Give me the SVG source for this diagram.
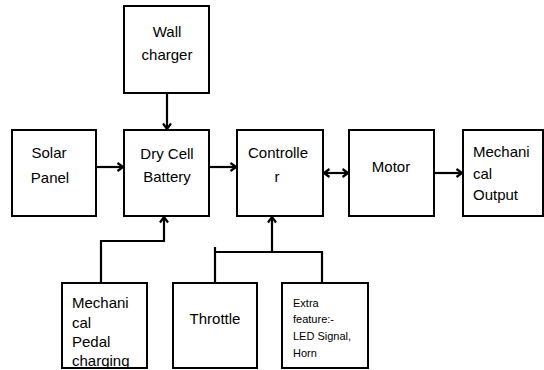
<svg xmlns="http://www.w3.org/2000/svg" width="544" height="370" viewBox="0 0 544 370">
<defs>
<style>
.box{fill:#fff;stroke:#000;stroke-width:2}
.t{font-family:"Liberation Sans",Arial,sans-serif;font-size:15px;fill:#000}
.c{text-anchor:middle}
.s{font-size:11px}
.ln{fill:none;stroke:#000;stroke-width:2.2}
</style>
<marker id="ah" viewBox="0 0 10 10" refX="9" refY="5" markerWidth="10" markerHeight="10" markerUnits="userSpaceOnUse" orient="auto-start-reverse">
<path d="M3.5,1 L9,5 L3.5,9" fill="none" stroke="#000" stroke-width="2.2"/>
</marker>
<clipPath id="pc"><rect x="62" y="283" width="85" height="84"/></clipPath>
</defs>
<rect width="544" height="370" fill="#fff"/>
<g id="connectors">
<path class="ln" d="M167,93 V129" marker-end="url(#ah)"/>
<path class="ln" d="M96,167 H123" marker-end="url(#ah)"/>
<path class="ln" d="M209,167 H236" marker-end="url(#ah)"/>
<path class="ln" d="M324,173 H348" marker-start="url(#ah)" marker-end="url(#ah)"/>
<path class="ln" d="M434,173 H462" marker-end="url(#ah)"/>
<path class="ln" d="M101,283 V241 H164 V217" marker-end="url(#ah)"/>
<path class="ln" d="M215,283 V247"/>
<path class="ln" d="M322,283 V252 H215"/>
<path class="ln" d="M272,252 V217" marker-end="url(#ah)"/>
</g>
<g id="wall-charger">
<rect class="box" x="124" y="6" width="85" height="87"/>
<text class="t c" x="167" y="37">Wall</text>
<text class="t c" x="167" y="60">charger</text>
</g>
<g id="solar-panel">
<rect class="box" x="12" y="130" width="84" height="86"/>
<text class="t c" x="49" y="158">Solar</text>
<text class="t c" x="50" y="183">Panel</text>
</g>
<g id="battery">
<rect class="box" x="124" y="130" width="85" height="86"/>
<text class="t c" x="167" y="159">Dry Cell</text>
<text class="t c" x="167" y="182">Battery</text>
</g>
<g id="controller">
<rect class="box" x="237" y="130" width="86" height="86"/>
<text class="t c" x="278" y="158">Controlle</text>
<text class="t c" x="277" y="182">r</text>
</g>
<g id="motor">
<rect class="box" x="349" y="130" width="85" height="86"/>
<text class="t c" x="391" y="172">Motor</text>
</g>
<g id="mechanical-output">
<rect class="box" x="463" y="130" width="80" height="86"/>
<text class="t" x="473" y="157">Mechani</text>
<text class="t" x="473" y="179">cal</text>
<text class="t" x="473" y="200">Output</text>
</g>
<g id="pedal-charging">
<rect class="box" x="62" y="283" width="85" height="85"/>
<g clip-path="url(#pc)">
<text class="t" x="72" y="308">Mechani</text>
<text class="t" x="72" y="328">cal</text>
<text class="t" x="72" y="347">Pedal</text>
<text class="t" x="72" y="366">charging</text>
</g>
</g>
<g id="throttle">
<rect class="box" x="173" y="283" width="84" height="85"/>
<text class="t c" x="215" y="324">Throttle</text>
</g>
<g id="extra-feature">
<rect class="box" x="282" y="283" width="86" height="85"/>
<text class="t s" x="293" y="307">Extra</text>
<text class="t s" x="293" y="323">feature:-</text>
<text class="t s" x="293" y="340">LED Signal,</text>
<text class="t s" x="293" y="357">Horn</text>
</g>
</svg>
